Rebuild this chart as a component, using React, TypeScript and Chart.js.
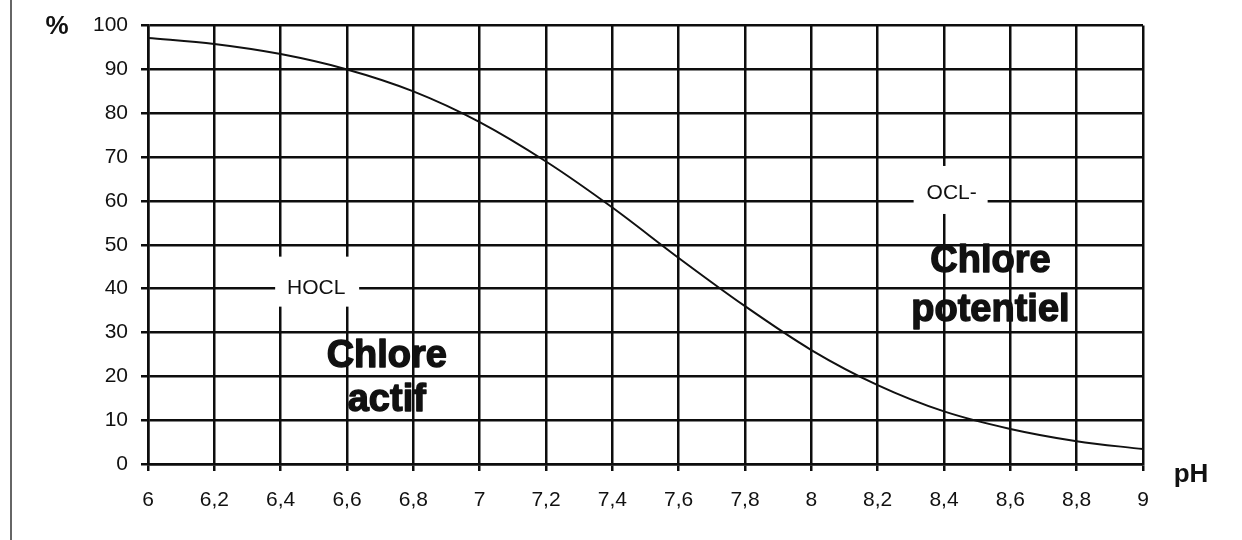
import React, { useEffect, useRef } from "react";
import { Chart, registerables } from "chart.js";

Chart.register(...registerables);

const phValues = [6, 6.2, 6.4, 6.6, 6.8, 7, 7.2, 7.4, 7.6, 7.8, 8, 8.2, 8.4, 8.6, 8.8, 9];
const hoclPercent = [97.2, 95.8, 93.5, 90, 85, 78, 69, 58.5, 47, 36, 26, 18, 12, 8, 5.2, 3.4];
const yTicks = [0, 10, 20, 30, 40, 50, 60, 70, 80, 90, 100];
const xTickStep = 0.2;

const FONT = "'Liberation Sans', Arial, sans-serif";
const GRID = "#0d0d0d";

const overlay = {
  id: "overlay",
  afterDatasetsDraw(chart: any) {
    const ctx = chart.ctx;
    const x = chart.scales.x;
    const y = chart.scales.y;
    ctx.save();
    // left frame line
    ctx.strokeStyle = "#333";
    ctx.lineWidth = 1.5;
    ctx.beginPath();
    ctx.moveTo(11, 0);
    ctx.lineTo(11, 540);
    ctx.stroke();

    // white boxes
    ctx.fillStyle = "#ffffff";
    const hx = x.getPixelForValue(6.51);
    const hy = y.getPixelForValue(40);
    ctx.fillRect(hx - 42, hy - 32, 84, 50);
    const ox = x.getPixelForValue(8.42);
    const oy = y.getPixelForValue(60);
    ctx.fillRect(ox - 37, oy - 35, 74, 48);

    ctx.fillStyle = "#111";
    ctx.textAlign = "center";
    ctx.textBaseline = "middle";
    ctx.font = `21px ${FONT}`;
    ctx.fillText("HOCL", hx - 1, hy);
    ctx.fillText("OCL-", ox + 1, oy - 8);

    ctx.font = `bold 38px ${FONT}`;
    ctx.strokeStyle = "#111";
    ctx.lineWidth = 1.4;
    ctx.lineJoin = "round";
    const big = (t: string, px: number, py: number) => {
      ctx.fillText(t, px, py);
      ctx.strokeText(t, px, py);
    };
    const cax = x.getPixelForValue(6.72);
    big("Chlore", cax, y.getPixelForValue(24.6));
    big("actif", cax, y.getPixelForValue(14.4));
    const cpx = x.getPixelForValue(8.54);
    big("Chlore", cpx, y.getPixelForValue(46.2));
    big("potentiel", cpx, y.getPixelForValue(35.1));

    ctx.font = `bold 26px ${FONT}`;
    ctx.fillText("%", 57, 27);
    ctx.fillText("pH", 1191, 475);
    ctx.restore();
  },
};

export default function App() {
  const ref = useRef<HTMLCanvasElement | null>(null);
  useEffect(() => {
    const canvas = ref.current;
    if (!canvas) return;
    const chart = new Chart(canvas, {
      type: "line",
      data: {
        datasets: [
          {
            data: phValues.map((p, i) => ({ x: p, y: hoclPercent[i] })),
            borderColor: "#111",
            borderWidth: 2,
            pointRadius: 0,
            cubicInterpolationMode: "monotone",
            fill: false,
          },
        ],
      },
      options: {
        responsive: false,
        animation: false,
        events: [],
        layout: { padding: { top: 23, right: 99, left: 0, bottom: 0 } },
        plugins: { legend: { display: false }, tooltip: { enabled: false } },
        scales: {
          x: {
            type: "linear",
            min: 6,
            max: 9,
            afterFit: (s: any) => {
              s.height = 76;
            },
            afterBuildTicks: (s: any) => {
              s.ticks = phValues.map((v) => ({ value: v }));
            },
            ticks: {
              stepSize: xTickStep,
              color: "#111",
              padding: 17,
              maxRotation: 0,
              autoSkip: false,
              font: { family: FONT, size: 21 },
              callback: (v: any) => String(Math.round(Number(v) * 10) / 10).replace(".", ","),
            },
            grid: { color: GRID, lineWidth: 2.5, tickLength: 7, drawTicks: true, tickColor: GRID },
            border: { display: true, color: GRID, width: 2.5 },
          },
          y: {
            min: 0,
            max: 100,
            afterFit: (s: any) => {
              s.width = 148;
            },
            afterBuildTicks: (s: any) => {
              s.ticks = yTicks.map((v) => ({ value: v }));
            },
            ticks: {
              color: "#111",
              padding: 13,
              font: { family: FONT, size: 21 },
            },
            grid: { color: GRID, lineWidth: 2.5, tickLength: 7, drawTicks: true, tickColor: GRID },
            border: { display: true, color: GRID, width: 2.5 },
          },
        },
      },
      plugins: [overlay],
    } as any);
    return () => chart.destroy();
  }, []);
  return (
    <canvas
      ref={ref}
      width={1242}
      height={540}
      style={{ position: "fixed", left: 0, top: 0, width: 1242, height: 540, background: "#fff" }}
    />
  );
}
